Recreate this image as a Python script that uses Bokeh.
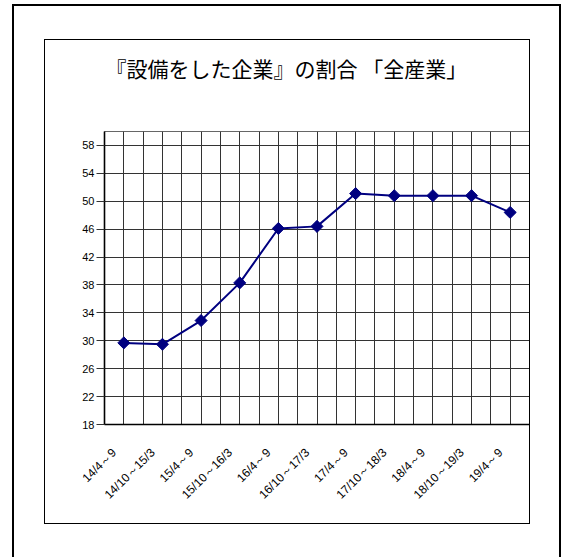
from math import pi
from bokeh.plotting import figure
from bokeh.models import FactorRange, Range1d, FixedTicker, Grid, LinearAxis
from bokeh.embed import file_html
from bokeh.resources import INLINE

# ---- data ----
periods = ["14/4～9", "14/10～15/3", "15/4～9", "15/10～16/3", "16/4～9",
           "16/10～17/3", "17/4～9", "17/10～18/3", "18/4～9", "18/10～19/3", "19/4～9"]
shares = [29.7, 29.5, 32.9, 38.3, 46.1, 46.4, 51.1, 50.8, 50.8, 50.8, 48.4]
y_ticks = [18, 22, 26, 30, 34, 38, 42, 46, 50, 54, 58]
y_min, y_max = 18, 60
title_text = "『設備をした企業』の割合 「全産業」"

W, H = 563, 557
p = figure(width=W, height=H,
           x_range=FactorRange(*periods), y_range=Range1d(y_min, y_max),
           x_axis_type=None,
           output_backend="svg", toolbar_location=None,
           min_border_left=104, min_border_right=34,
           min_border_top=131, min_border_bottom=133)
p.background_fill_color = "white"
p.border_fill_color = "white"
p.outline_line_color = "#666666"
p.outline_line_width = 1

# title
p.title.text = title_text
p.title.align = "left"
p.title.offset = 1
p.title.vertical_align = "middle"
p.title.standoff = 96
p.title.text_font = "Noto Sans CJK JP"
p.title.text_font_style = "normal"
p.title.text_font_size = "21px"
p.title.text_color = "black"

# category axis: labels hang just left of each category centre (Excel style)
label_pos = [i + 0.25 for i in range(len(periods))]
xaxis = LinearAxis(ticker=FixedTicker(ticks=label_pos),
                   major_label_overrides={pos: lab for pos, lab in zip(label_pos, periods)})
p.add_layout(xaxis, "below")

# grids
half_steps = [i * 0.5 for i in range(1, 2 * len(periods))]
p.add_layout(Grid(dimension=0, ticker=FixedTicker(ticks=half_steps),
                  grid_line_color="#333333", grid_line_width=1))
p.yaxis.ticker = FixedTicker(ticks=y_ticks)
p.ygrid.grid_line_color = "#333333"
p.ygrid.grid_line_width = 1

# axes
for ax in (xaxis, p.yaxis[0]):
    ax.axis_line_color = "black"
    ax.axis_line_width = 1.6
    ax.minor_tick_line_color = None
    ax.major_label_text_color = "black"
p.yaxis.major_label_text_font = "Liberation Sans"
p.yaxis.major_tick_out = 8
p.yaxis.major_tick_in = 0
p.yaxis.major_tick_line_color = "#333333"
p.yaxis.major_label_standoff = 2
p.yaxis.major_label_text_font_size = "11px"
xaxis.major_label_text_font = "Liberation Sans"
xaxis.major_tick_line_color = None
xaxis.major_label_orientation = pi / 4
xaxis.major_label_text_font_size = "12px"
xaxis.major_label_standoff = 20

# series
p.line(x=periods, y=shares, line_color="#000080", line_width=2)
p.scatter(x=periods, y=shares, marker="square", size=8.5, angle=pi / 4,
          fill_color="#000080", line_color="#000080")

# outer and inner frames around the chart
p.stylesheets = ["""
:host { position: relative; }
:host::before { content: ""; position: absolute; left: 12px; top: 4px;
  width: 549px; height: 553px; box-sizing: border-box;
  border: 2px solid black; border-bottom: none; pointer-events: none; z-index: 100; }
:host::after { content: ""; position: absolute; left: 44px; top: 39px;
  width: 486px; height: 485px; box-sizing: border-box;
  border: 1px solid black; pointer-events: none; z-index: 100; }
"""]

open("out.html", "w").write(file_html(p, INLINE))
